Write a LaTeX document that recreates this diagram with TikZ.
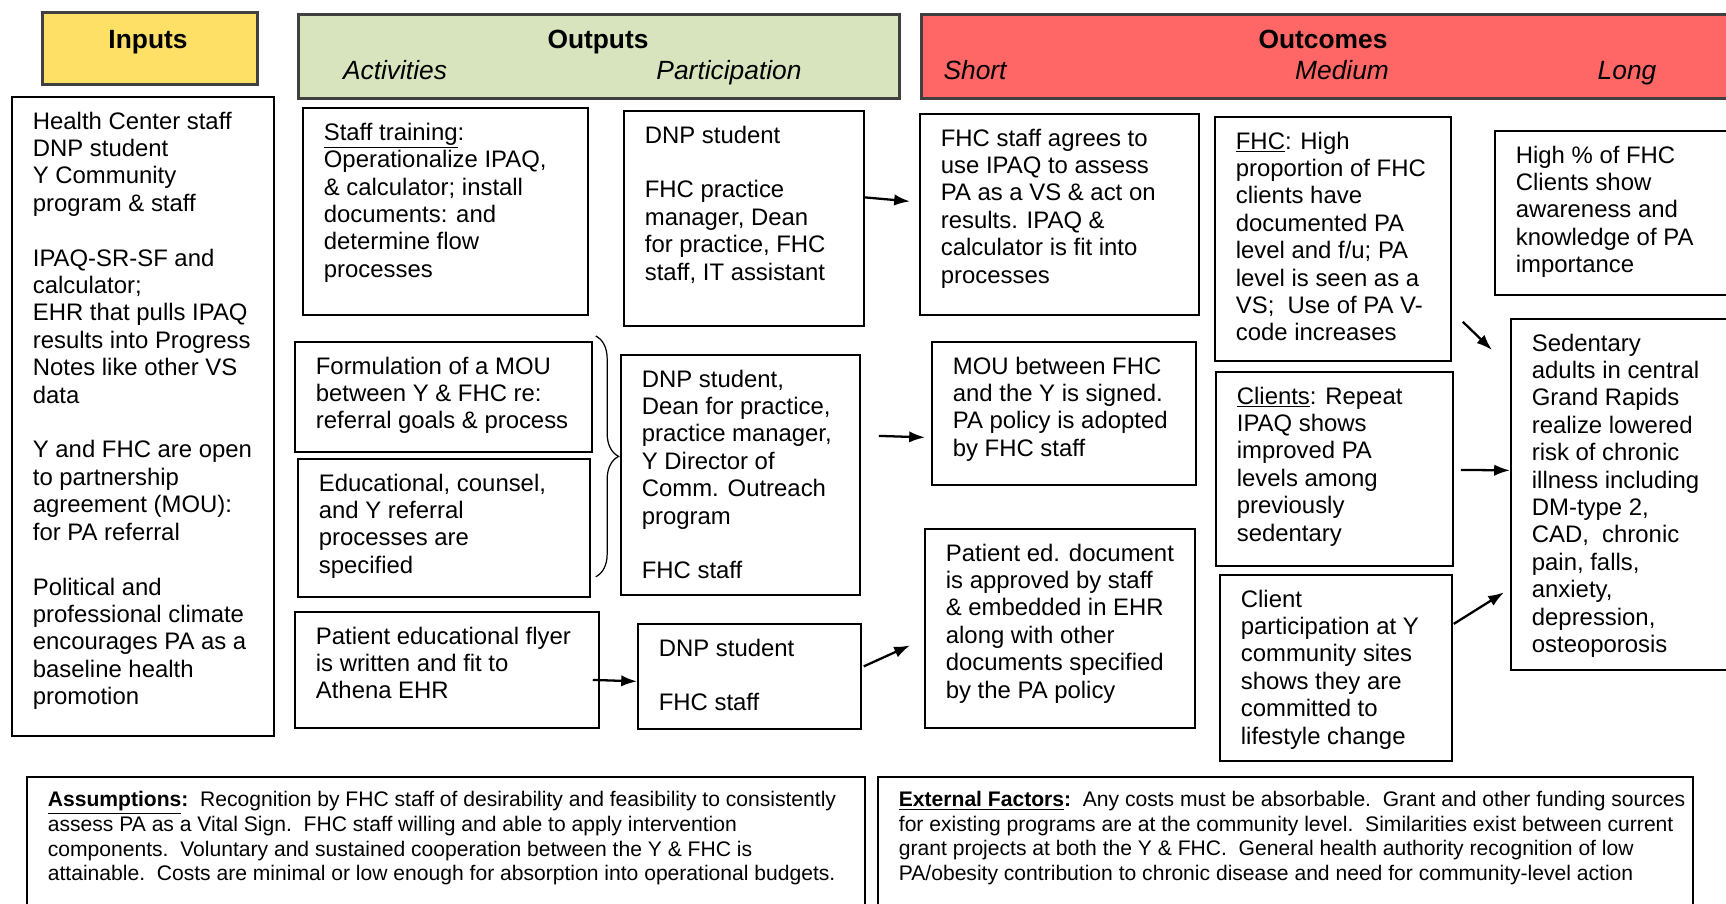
\documentclass[tikz,border=0pt]{standalone}
\usepackage{fontspec}
\setmainfont{Liberation Sans}
\usetikzlibrary{arrows.meta,calc,decorations.pathreplacing}

\definecolor{inyellow}{HTML}{FFE066}
\definecolor{outgreen}{HTML}{D7E4BD}
\definecolor{outcred}{HTML}{FF6666}

% one pixel of the layout grid
\newdimen\pxu \pxu=0.02cm
% box contents: width, height, lines
\newcommand{\celltext}[3]{\parbox[c][#2\pxu][t]{#1\pxu}{\vspace*{13\pxu}\hspace*{21\pxu}\begin{tabular}[t]{@{}l@{}}#3\end{tabular}}}
\newcommand{\emptyrow}{\\ \mbox{}\\}

\tikzset{
    box/.style={draw, line width=1pt, inner sep=0pt, anchor=north west,
        font=\fontsize{13.6}{15.6}\selectfont},
    notebox/.style={box, font=\fontsize{12}{13.9}\selectfont},
    head/.style={draw=black!75, line width=1.6pt, inner sep=0pt, anchor=north west},
    headtitle/.style={anchor=base, font=\fontsize{15}{18}\selectfont\bfseries},
    headsub/.style={anchor=base, font=\fontsize{15}{18}\selectfont\itshape},
    arr/.style={->, line width=1.3pt},
}

\begin{document}
\begin{tikzpicture}[x=0.02cm, y=-0.02cm, >={Latex[length=9pt,width=6.5pt]}]
    \clip (0,0) rectangle (1726,903);

    % Header bars
    \node[head, fill=inyellow] (inhead) at (41,11) {\celltext{215}{72}{}};
    \node[head, fill=outgreen] (outhead) at (297,13) {\celltext{601}{84}{}};
    \node[head, fill=outcred] (ochead) at (920,13) {\celltext{830}{84}{}};
    \node[headtitle] (intitle) at (148,48) {Inputs};
    \node[headtitle] (outtitle) at (598,48) {Outputs};
    \node[headsub] (acttitle) at (395,79) {Activities};
    \node[headsub] (parttitle) at (729,79) {Participation};
    \node[headtitle] (octitle) at (1323,48) {Outcomes};
    \node[headsub] (shorttitle) at (975,79) {Short};
    \node[headsub] (medtitle) at (1342,79) {Medium};
    \node[headsub] (longtitle) at (1627,79) {Long};

    % Inputs
    \node[box] (inputs) at (11,96) {\celltext{262}{639}{Health Center staff\\ DNP student\\ Y Community\\ program \& staff\emptyrow IPAQ-SR-SF and\\ calculator;\\ EHR that pulls IPAQ\\ results into Progress\\ Notes like other VS\\ data\emptyrow Y and FHC are open\\ to partnership\\ agreement (MOU):\\ for PA referral\emptyrow Political and\\ professional climate\\ encourages PA as a\\ baseline health\\ promotion}};

    % Activities
    \node[box] (training) at (302,107) {\celltext{285}{207}{\underline{Staff training}:\\ Operationalize IPAQ,\\ \& calculator; install\\ documents: and\\ determine flow\\ processes}};
    \node[box] (mouform) at (294,341) {\celltext{297}{110}{Formulation of a MOU\\ between Y \& FHC re:\\ referral goals \& process}};
    \node[box] (educ) at (297,458) {\celltext{292}{138}{Educational, counsel,\\ and Y referral\\ processes are\\ specified}};
    \node[box] (flyer) at (294,611) {\celltext{304}{116}{Patient educational flyer\\ is written and fit to\\ Athena EHR}};

    % Participation
    \node[box] (dnptop) at (623,110) {\celltext{240}{215}{DNP student\emptyrow FHC practice\\ manager, Dean\\ for practice, FHC\\ staff, IT assistant}};
    \node[box] (dnpmid) at (620,354) {\celltext{239}{240}{DNP student,\\ Dean for practice,\\ practice manager,\\ Y Director of\\ Comm. Outreach\\ program\emptyrow FHC staff}};
    \node[box] (dnpbot) at (637,623) {\celltext{223}{105}{DNP student\emptyrow FHC staff}};

    % Short outcomes
    \node[box] (agree) at (919,113) {\celltext{279}{201}{FHC staff agrees to\\ use IPAQ to assess\\ PA as a VS \& act on\\ results. IPAQ \&\\ calculator is fit into\\ processes}};
    \node[box] (signed) at (931,341) {\celltext{264}{143}{MOU between FHC\\ and the Y is signed.\\ PA policy is adopted\\ by FHC staff}};
    \node[box] (edoc) at (924,528) {\celltext{270}{199}{Patient ed. document\\ is approved by staff\\ \& embedded in EHR\\ along with other\\ documents specified\\ by the PA policy}};

    % Medium outcomes
    \node[box] (fhc) at (1214,116) {\celltext{236}{244}{\underline{FHC}: High\\ proportion of FHC\\ clients have\\ documented PA\\ level and f/u; PA\\ level is seen as a\\ VS;\ \ Use of PA V-\\ code increases}};
    \node[box] (clients) at (1215,371) {\celltext{237}{194}{\underline{Clients}: Repeat\\ IPAQ shows\\ improved PA\\ levels among\\ previously\\ sedentary}};
    \node[box] (ysites) at (1219,574) {\celltext{232}{186}{Client\\ participation at Y\\ community sites\\ shows they are\\ committed to\\ lifestyle change}};

    % Long outcomes
    \node[box] (aware) at (1494,130) {\celltext{246}{164}{High \% of FHC\\ Clients show\\ awareness and\\ knowledge of PA\\ importance}};
    \node[box] (sedentary) at (1510,318) {\celltext{230}{351}{Sedentary\\ adults in central\\ Grand Rapids\\ realize lowered\\ risk of chronic\\ illness including\\ DM-type 2,\\ CAD,\ \ chronic\\ pain, falls,\\ anxiety,\\ depression,\\ osteoporosis}};

    % Assumptions and external factors
    \node[notebox] (assume) at (26,776) {\celltext{838}{140}{\textbf{\underline{Assumptions}:}\ \ Recognition by FHC staff of desirability and feasibility to consistently\\ assess PA as a Vital Sign.\ \ FHC staff willing and able to apply intervention\\ components.\ \ Voluntary and sustained cooperation between the Y \& FHC is\\ attainable.\ \ Costs are minimal or low enough for absorption into operational budgets.}};
    \node[notebox] (external) at (877,776) {\celltext{815}{140}{\textbf{\underline{External Factors}:}\ \ Any costs must be absorbable.\ \ Grant and other funding sources\\ for existing programs are at the community level.\ \ Similarities exist between current\\ grant projects at both the Y \& FHC.\ \ General health authority recognition of low\\ PA/obesity contribution to chronic disease and need for community-level action}};

    % Brace joining the two middle activities
    \draw[line width=0.7pt, decorate, decoration={brace, amplitude=13pt}]
        ($(mouform.north east)+(3,-5)$) -- ($(educ.south east)+(5,-21)$);

    % Arrows
    \draw[arr] ($(dnptop.east)+(0,-21)$) -- ($(agree.west)+(-9,-13)$);
    \draw[arr] ($(dnpmid.east)+(18,-39)$) -- ($(signed.west)+(-6,24)$);
    \draw[arr] ($(flyer.east)+(-7,10)$) -- ($(dnpbot.west)+(0,5)$);
    \draw[arr] ($(dnpbot.east)+(2,-10)$) -- ($(edoc.west)+(-14,17)$);
    \draw[arr] ($(fhc.south east)+(11,-40)$) -- ($(sedentary.north west)+(-18,32)$);
    \draw[arr] ($(clients.east)+(7,1)$) -- ($(sedentary.west)+(0,-24)$);
    \draw[arr] ($(ysites.east)+(1,-44)$) -- ($(sedentary.west)+(-6,98)$);
\end{tikzpicture}
\end{document}
